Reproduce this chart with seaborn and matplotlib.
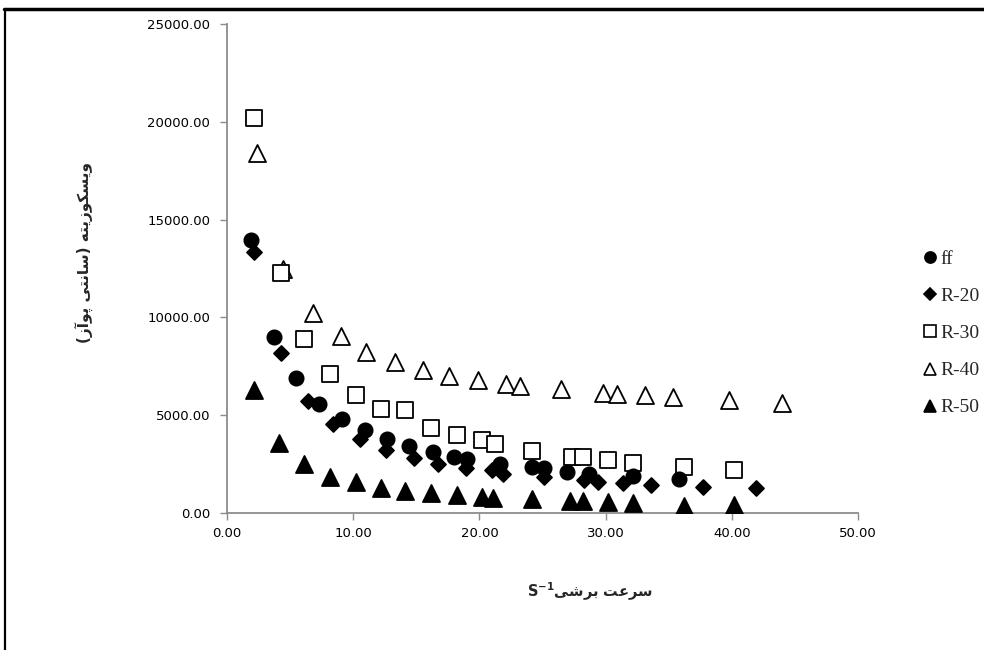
import matplotlib
matplotlib.use("Agg")
import matplotlib.pyplot as plt
from matplotlib.lines import Line2D
import pandas as pd
import seaborn as sns

# shear rate (1/s) and viscosity (cP)
ff_x = [1.9, 3.7, 5.5, 7.3, 9.1, 10.9, 12.7, 14.4, 16.3, 18.0, 19.0, 21.6, 24.2, 25.1, 26.9, 28.7, 32.2, 35.8]
ff_y = [13950, 9000, 6900, 5570, 4800, 4240, 3780, 3420, 3120, 2860, 2760, 2500, 2350, 2280, 2100, 2000, 1880, 1720]

r20_x = [2.1, 4.3, 6.4, 8.4, 10.5, 12.6, 14.8, 16.7, 18.9, 21.0, 21.9, 25.1, 28.3, 29.4, 31.4, 33.6, 37.7, 41.9]
r20_y = [13350, 8180, 5730, 4550, 3780, 3220, 2810, 2500, 2300, 2200, 1990, 1840, 1690, 1590, 1530, 1430, 1330, 1280]

r30_x = [2.1, 4.3, 6.1, 8.2, 10.2, 12.2, 14.1, 16.2, 18.2, 20.2, 21.2, 24.2, 27.3, 28.2, 30.2, 32.2, 36.2, 40.2]
r30_y = [20200, 12270, 8900, 7110, 6030, 5320, 5270, 4350, 3990, 3730, 3530, 3170, 2860, 2860, 2710, 2560, 2350, 2200]

r40_x = [2.4, 4.4, 6.8, 9.0, 11.0, 13.3, 15.5, 17.6, 19.9, 22.1, 23.2, 26.5, 29.8, 30.9, 33.1, 35.3, 39.8, 44.0]
r40_y = [18400, 12450, 10250, 9050, 8230, 7720, 7310, 7000, 6800, 6600, 6500, 6340, 6140, 6100, 6030, 5930, 5780, 5620]

r50_x = [2.1, 4.1, 6.1, 8.2, 10.2, 12.2, 14.1, 16.2, 18.2, 20.2, 21.1, 24.2, 27.2, 28.2, 30.2, 32.2, 36.2, 40.2]
r50_y = [6290, 3580, 2500, 1840, 1590, 1280, 1120, 1020, 920, 820, 770, 720, 610, 610, 560, 510, 360, 410]

series_names = ["ff", "R-20", "R-30", "R-40", "R-50"]
x_ticks = [0, 10, 20, 30, 40, 50]
y_ticks = [0, 5000, 10000, 15000, 20000, 25000]

# Persian labels, written as Arabic presentation forms in visual order
# (matplotlib does no bidi / shaping on its own)
# "سرعت برشی"
xlabel_fa = "\uFEF0\uFEB7\uFEAE\uFE91 \uFE96\uFECB\uFEAE\uFEB3"
# "ویسکوزیته (سانتی پوآز)"
ylabel_fa = ("(\uFEAF\uFE81\uFEEE\uFB58 \uFEF0\uFE98\uFEE7\uFE8E\uFEB3) "
             "\uFEEA\uFE98\uFEF3\uFEAF\uFEEE\uFEDC\uFEB4\uFEF3\uFEED")

frames = []
for name, xs, ys in zip(series_names, [ff_x, r20_x, r30_x, r40_x, r50_x],
                        [ff_y, r20_y, r30_y, r40_y, r50_y]):
    frames.append(pd.DataFrame({"series": name, "rate": xs, "visc": ys}))
df = pd.concat(frames, ignore_index=True)

styles = {
    "ff":   dict(marker="o", s=105, color="black"),
    "R-20": dict(marker="D", s=58, color="black"),
    "R-30": dict(marker="s", s=135, color="white"),
    "R-40": dict(marker="^", s=150, color="white"),
    "R-50": dict(marker="^", s=150, color="black"),
}

sns.set_style("white")
plt.rcParams["font.family"] = ["DejaVu Sans"]

fig = plt.figure(figsize=(9.84, 6.5), dpi=100)
ax = fig.add_axes([0.2307, 0.2108, 0.6413, 0.7522])

for name in ["R-50", "R-40", "R-30", "R-20", "ff"]:
    st = styles[name]
    sns.scatterplot(data=df[df["series"] == name], x="rate", y="visc", ax=ax,
                    marker=st["marker"], s=st["s"], color=st["color"],
                    edgecolor="black", linewidth=1.3, legend=False, zorder=3)

ax.set_xlim(0, 50)
ax.set_ylim(0, 25000)
ax.set_xticks(x_ticks)
ax.set_yticks(y_ticks)
ax.set_xticklabels([f"{v:.2f}" for v in x_ticks])
ax.set_yticklabels([f"{v:.2f}" for v in y_ticks])
ax.tick_params(axis="both", length=5, width=1, color="#8c8c8c", labelsize=9.5,
               labelcolor="black", direction="out", bottom=True, left=True)
ax.tick_params(axis="y", pad=7)
ax.tick_params(axis="x", pad=5)
for side in ["top", "right"]:
    ax.spines[side].set_visible(False)
for side in ["left", "bottom"]:
    ax.spines[side].set_color("#8c8c8c")
    ax.spines[side].set_linewidth(1.3)
ax.set_xlabel("")
ax.set_ylabel("")

fig.text(0.5996, 0.089, r"$\mathbf{S^{-1}}$" + xlabel_fa, ha="center", va="center",
         fontsize=10.5, fontweight="bold")
fig.text(0.0864, 0.611, ylabel_fa, ha="center", va="center", rotation=90,
         fontsize=11, fontweight="bold")

handles = []
for name in series_names:
    st = styles[name]
    handles.append(Line2D([], [], linestyle="none", marker=st["marker"],
                          markersize=8 if st["marker"] != "D" else 6,
                          markerfacecolor=st["color"], markeredgecolor="black",
                          markeredgewidth=1.2, label=name))
fig.legend(handles=handles, loc="center left", bbox_to_anchor=(0.925, 0.487),
           frameon=False, prop={"family": "Liberation Serif", "size": 14},
           handletextpad=0.05, handlelength=1.0, labelspacing=1.0,
           borderpad=0)

# frame lines around the picture
fig.add_artist(Line2D([0.004, 1.0], [0.986, 0.986], color="black", lw=2.5,
                      transform=fig.transFigure))
fig.add_artist(Line2D([0.005, 0.005], [0.0, 0.986], color="black", lw=1.6,
                      transform=fig.transFigure))

fig.savefig("out.png", dpi=100)
